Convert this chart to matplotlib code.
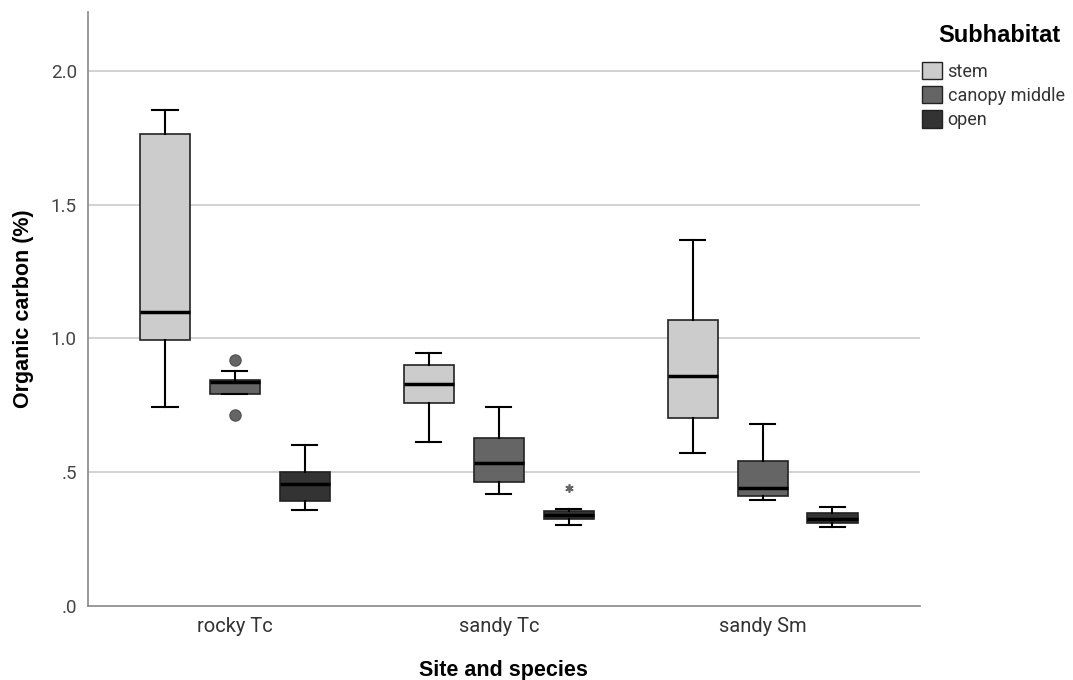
import matplotlib
matplotlib.use("Agg")
import matplotlib.pyplot as plt
from matplotlib.patches import Patch

plt.rcParams['font.family'] = ['Roboto', 'DejaVu Sans']

sites = ["rocky Tc", "sandy Tc", "sandy Sm"]
subhabitats = ["stem", "canopy middle", "open"]
colors = ["#cccccc", "#656565", "#333333"]

# five-number summaries: [whislo, q1, med, q3, whishi]
stem = [[0.742, 0.994, 1.099, 1.765, 1.854],
        [0.611, 0.758, 0.829, 0.900, 0.945],
        [0.573, 0.702, 0.861, 1.069, 1.368]]
canopy = [[0.791, 0.794, 0.838, 0.844, 0.879],
          [0.420, 0.462, 0.533, 0.627, 0.743],
          [0.396, 0.411, 0.440, 0.540, 0.679]]
open_ = [[0.358, 0.394, 0.455, 0.500, 0.603],
         [0.304, 0.326, 0.340, 0.353, 0.364],
         [0.294, 0.309, 0.325, 0.347, 0.369]]
# outliers (circles) and extremes (stars)
canopy_out = [[0.920, 0.714], [], []]
open_extreme = [[], [0.441], []]

series = [stem, canopy, open_]
offsets = [-0.265, 0.0, 0.265]

fig = plt.figure(figsize=(10.73, 6.8), dpi=100)
ax = fig.add_axes([0.082, 0.109, 0.775, 0.873])

for k, (data, col, off) in enumerate(zip(series, colors, offsets)):
    stats = []
    for s in data:
        stats.append(dict(whislo=s[0], q1=s[1], med=s[2], q3=s[3], whishi=s[4], fliers=[]))
    pos = [i + 1 + off for i in range(len(sites))]
    ax.bxp(stats, positions=pos, widths=0.19, patch_artist=True, showfliers=False,
           boxprops=dict(facecolor=col, edgecolor="#222222", linewidth=1.2),
           medianprops=dict(color="black", linewidth=2.5),
           whiskerprops=dict(color="black", linewidth=1.5),
           capprops=dict(color="black", linewidth=1.5),
           capwidths=0.095)

for i, vals in enumerate(canopy_out):
    if vals:
        ax.plot([i + 1 + offsets[1]] * len(vals), vals, 'o', ms=8,
                mfc="#656565", mec="#555555", zorder=5)
for i, vals in enumerate(open_extreme):
    if vals:
        ax.plot([i + 1 + offsets[2]] * len(vals), vals, marker=(6, 2, 0), ls='none',
                ms=6, mec="#666666", mew=1.2, zorder=5)

ax.set_xlim(0.443, 3.595)
ax.set_ylim(0, 2.22)
ax.set_yticks([0, 0.5, 1.0, 1.5, 2.0])
ax.set_yticklabels([".0", ".5", "1.0", "1.5", "2.0"], fontsize=13.5, color="#444444")
ax.set_xticks([1, 2, 3])
ax.set_xticklabels(sites, fontsize=14.5, color="#333333")
ax.tick_params(length=0, pad=8)
for y in [0.5, 1.0, 1.5, 2.0]:
    ax.axhline(y, color="#cfcfcf", lw=1.3, zorder=0)
for sp in ["top", "right"]:
    ax.spines[sp].set_visible(False)
for sp in ["left", "bottom"]:
    ax.spines[sp].set_color("#888888")
    ax.spines[sp].set_linewidth(1.2)

ax.set_xlabel("Site and species", fontsize=15.5, fontweight="bold",
              family="Liberation Sans", labelpad=17)
ax.set_ylabel("Organic carbon (%)", fontsize=15.5, fontweight="bold",
              family="Liberation Sans", labelpad=12)

fig.text(0.931, 0.948, "Subhabitat", fontsize=17, fontweight="bold",
         family="Liberation Sans", ha="center", va="center")
handles = [Patch(facecolor=c, edgecolor="#222222", label=l) for c, l in zip(colors, subhabitats)]
leg = fig.legend(handles=handles, loc="upper left", bbox_to_anchor=(0.8595, 0.909),
                 frameon=False, fontsize=13,
                 handlelength=1.1, handleheight=1.1, handletextpad=0.3,
                 labelspacing=0.3, borderaxespad=0, borderpad=0)
for t in leg.get_texts():
    t.set_color("#333333")

fig.savefig("out.png", dpi=100)
